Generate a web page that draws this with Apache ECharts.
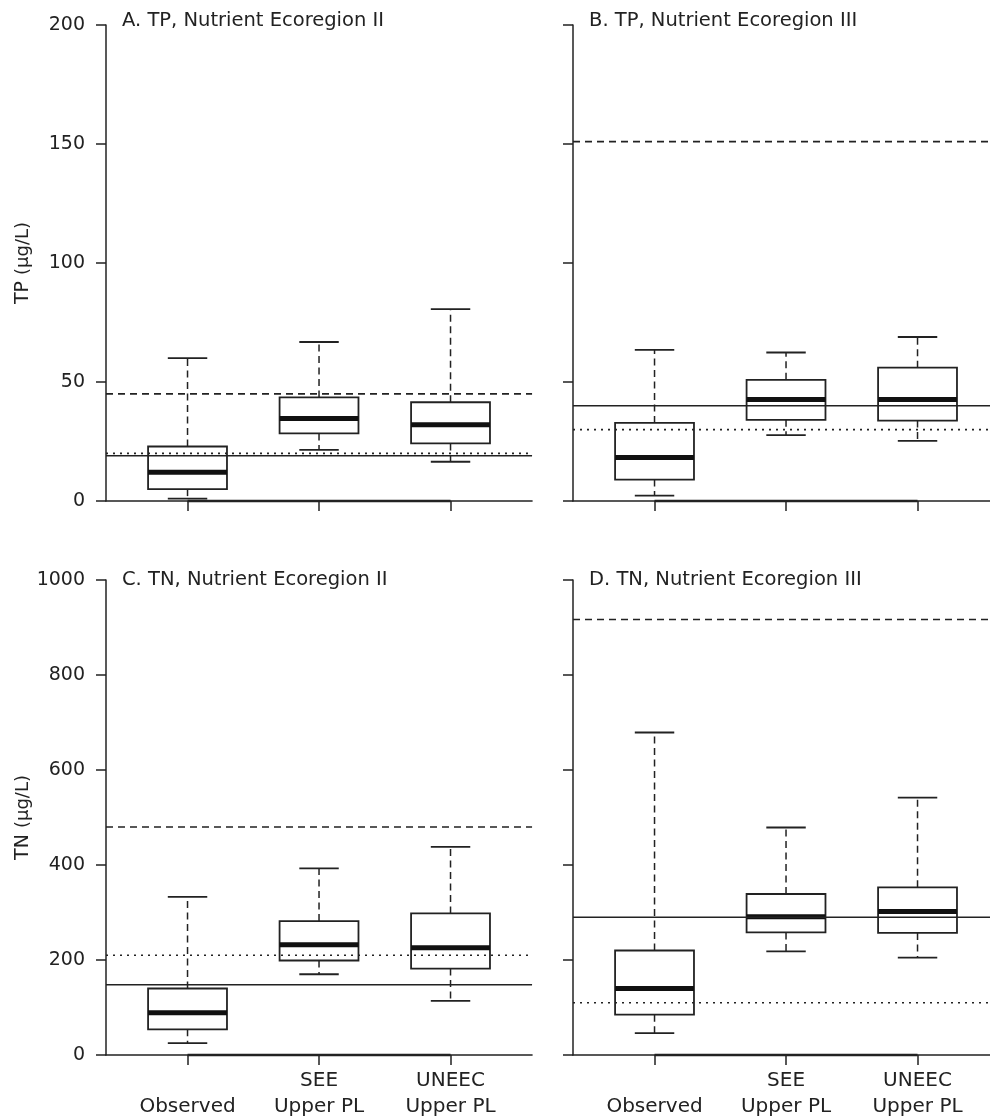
<!DOCTYPE html>
<html>
<head>
<meta charset="utf-8">
<script src="https://cdn.jsdelivr.net/npm/echarts@6/dist/echarts.min.js"></script>
<style>
html,body{margin:0;padding:0;background:#fff;}
#chart{width:990px;height:1120px;}
</style>
</head>
<body>
<div id="chart"></div>
<script>
// ---- data ----
const categories = ['Observed', 'SEE Upper PL', 'UNEEC Upper PL'];
const tickLabels = ['\nObserved', 'SEE\nUpper PL', 'UNEEC\nUpper PL'];
// each box: [lower whisker, Q1, median, Q3, upper whisker]
const tpII  = [[1.0, 5.0, 12.1, 22.9, 60.0], [21.5, 28.4, 34.7, 43.5, 66.8], [16.5, 24.2, 32.0, 41.5, 80.6]];
const tpIII = [[2.3, 9.0, 18.3, 32.8, 63.5], [27.7, 34.1, 42.6, 50.9, 62.4], [25.3, 33.8, 42.6, 56.0, 68.9]];
const tnII  = [[25, 54, 89, 140, 333], [170, 199, 232, 282, 393], [114, 182, 226, 298, 438]];
const tnIII = [[46, 85, 140, 220, 679], [218, 258, 291, 339, 479], [205, 257, 302, 353, 542]];
// reference lines: [dashed, dotted, solid]
const tpIIRefs  = [45, 20, 19];
const tpIIIRefs = [151, 30, 40];
const tnIIRefs  = [480, 210, 148];
const tnIIIRefs = [917, 110, 290];
const tpTicks = [0, 50, 100, 150, 200];
const tnTicks = [0, 200, 400, 600, 800, 1000];
const titles = ['A. TP, Nutrient Ecoregion II', 'B. TP, Nutrient Ecoregion III', 'C. TN, Nutrient Ecoregion II', 'D. TN, Nutrient Ecoregion III'];

// ---- layout ----
const INK = '#222';
const FONT = 'DejaVu Sans';
const unit = 131.5;           // px per category
const plotW = 3.24 * unit;    // plot region width
const panels = [
  {left: 106, top: 25,  height: 476, titleTop: 11,  boxes: tpII,  refs: tpIIRefs,  ticks: tpTicks, name: 'TP', ylab: true,  xlab: false},
  {left: 573, top: 25,  height: 476, titleTop: 11,  boxes: tpIII, refs: tpIIIRefs, ticks: tpTicks, name: 'TP', ylab: false, xlab: false},
  {left: 106, top: 580, height: 475, titleTop: 570, boxes: tnII,  refs: tnIIRefs,  ticks: tnTicks, name: 'TN', ylab: true,  xlab: true},
  {left: 573, top: 580, height: 475, titleTop: 570, boxes: tnIII, refs: tnIIIRefs, ticks: tnTicks, name: 'TN', ylab: false, xlab: true}
];

const grid = [], xAxis = [], yAxis = [], series = [], title = [];

panels.forEach((p, i) => {
  const yMin = p.ticks[0], yMax = p.ticks[p.ticks.length - 1], yInt = p.ticks[1] - p.ticks[0];
  grid.push({left: p.left, top: p.top, width: plotW, height: p.height, containLabel: false});
  grid.push({left: p.left + 0.12 * unit, top: p.top, width: 3 * unit, height: p.height, containLabel: false});
  const go = 2 * i, gi = 2 * i + 1;

  xAxis.push({gridIndex: go, type: 'value', min: 0, max: 1,
    axisLine: {show: true, lineStyle: {color: INK, width: 1.5}},
    axisTick: {show: false}, axisLabel: {show: false}, splitLine: {show: false}});
  xAxis.push({gridIndex: gi, type: 'category', data: categories, boundaryGap: true,
    axisLine: {show: false},
    axisTick: {show: true, alignWithLabel: true, length: 10, lineStyle: {color: INK, width: 1.5}},
    axisLabel: {show: p.xlab, interval: 0, color: INK, fontFamily: FONT, fontSize: 20, lineHeight: 26, margin: 13,
      formatter: (v, idx) => tickLabels[idx]},
    splitLine: {show: false}});

  yAxis.push({gridIndex: go, type: 'value', min: yMin, max: yMax, interval: yInt,
    axisLine: {show: true, lineStyle: {color: INK, width: 1.5}},
    axisTick: {show: true, length: 10, lineStyle: {color: INK, width: 1.5}},
    axisLabel: {show: p.ylab, color: INK, fontFamily: FONT, fontSize: 19, margin: 21, formatter: v => String(v)},
    splitLine: {show: false},
    name: p.ylab ? '{a|' + p.name + ' }{b|(μg/L)}' : '',
    nameLocation: 'middle', nameRotate: 90, nameGap: 73,
    nameTextStyle: {rich: {a: {fontFamily: FONT, fontSize: 19, color: INK}, b: {fontFamily: FONT, fontSize: 18, color: INK}}}});
  yAxis.push({gridIndex: gi, type: 'value', min: yMin, max: yMax, show: false});

  series.push({
    type: 'custom', xAxisIndex: gi, yAxisIndex: gi, z: 2, clip: false, silent: true,
    data: p.boxes.map((b, k) => [k].concat(b)),
    encode: {x: 0, y: [1, 2, 3, 4, 5]},
    renderItem: (params, api) => {
      const k = api.value(0);
      const lo = api.coord([k, api.value(1)]);
      const q1 = api.coord([k, api.value(2)]);
      const md = api.coord([k, api.value(3)]);
      const q3 = api.coord([k, api.value(4)]);
      const hi = api.coord([k, api.value(5)]);
      const band = api.size([1, 0])[0];
      const x = lo[0], hb = band * 0.3, hc = band * 0.15;
      const dash = {stroke: INK, lineWidth: 1.5, lineDash: [7, 4.5]};
      const solid = {stroke: INK, lineWidth: 1.8};
      return {type: 'group', children: [
        {type: 'line', shape: {x1: x, y1: q3[1], x2: x, y2: hi[1]}, style: dash},
        {type: 'line', shape: {x1: x, y1: q1[1], x2: x, y2: lo[1]}, style: dash},
        {type: 'line', shape: {x1: x - hc, y1: hi[1], x2: x + hc, y2: hi[1]}, style: solid},
        {type: 'line', shape: {x1: x - hc, y1: lo[1], x2: x + hc, y2: lo[1]}, style: solid},
        {type: 'rect', shape: {x: x - hb, y: q3[1], width: 2 * hb, height: q1[1] - q3[1]},
          style: {fill: '#fff', stroke: INK, lineWidth: 1.8}},
        {type: 'line', shape: {x1: x - hb, y1: md[1], x2: x + hb, y2: md[1]}, style: {stroke: '#111', lineWidth: 5}}
      ]};
    }
  });

  series.push({type: 'line', xAxisIndex: gi, yAxisIndex: gi, z: 4, clip: false, silent: true,
    symbol: 'none', data: [[0, yMin], [2, yMin]], lineStyle: {color: INK, width: 2.5}});

  const styles = [[7, 5], [2, 5], 'solid'];
  p.refs.forEach((v, r) => {
    series.push({type: 'line', xAxisIndex: go, yAxisIndex: go, z: 5, clip: false, silent: true,
      symbol: 'none', data: [[0, v], [1, v]],
      lineStyle: {color: INK, width: 1.6, type: styles[r]}});
  });

  title.push({text: titles[i], left: p.left + 16, top: p.titleTop, padding: 0,
    textStyle: {fontFamily: FONT, fontSize: 19.5, fontWeight: 'normal', color: INK}});
});

const chart = echarts.init(document.getElementById('chart'), null, {renderer: 'canvas'});
chart.setOption({animation: false, backgroundColor: '#fff', title, grid, xAxis, yAxis, series});
</script>
</body>
</html>
